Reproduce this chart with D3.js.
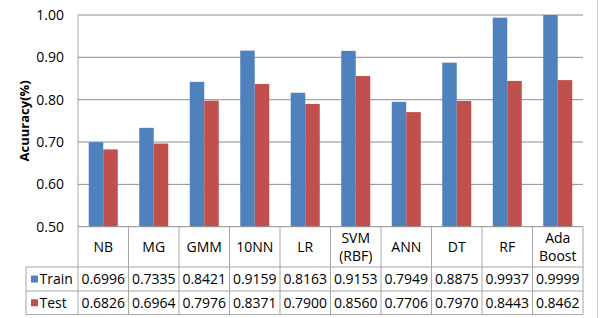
<!DOCTYPE html>
<html>
<head>
<meta charset="utf-8">
<script src="https://cdn.jsdelivr.net/npm/d3@7"></script>
<style>
body{margin:0;background:#fff;}
text{font-family:"Open Sans",sans-serif;fill:#000;}
</style>
</head>
<body>
<script>
// data
var categories = [["NB"],["MG"],["GMM"],["10NN"],["LR"],["SVM","(RBF)"],["ANN"],["DT"],["RF"],["Ada","Boost"]];
var seriesNames = ["Train","Test"];
var trainVals = [0.6996,0.7335,0.8421,0.9159,0.8163,0.9153,0.7949,0.8875,0.9937,0.9999];
var testVals  = [0.6826,0.6964,0.7976,0.8371,0.7900,0.8560,0.7706,0.7970,0.8443,0.8462];
var yTicks = [0.5,0.6,0.7,0.8,0.9,1.0];
var colors = ["#4F81BD","#C0504D"];

var W=602,H=318;
var plotL=78,plotR=583,plotT=15,plotB=226.7;
var rowH=[226.7,267,291,314.5];
var tableLeft=26;
var gridCol="#8e8e8e", lineCol="#a6a6a6";
var fs="14px";

var svg=d3.select("body").append("svg").attr("width",W).attr("height",H);

var keys=categories.map(function(c){return c.join(" ");});
var x0=d3.scaleBand().domain(keys).range([plotL,plotR]);
var x1=d3.scaleBand().domain(seriesNames).range([0,x0.bandwidth()]).paddingOuter(0.74);
var y=d3.scaleLinear().domain([0.5,1]).range([plotB,plotT]);

// gridlines
svg.append("g").selectAll("line").data(yTicks.slice(1)).enter().append("line")
	.attr("x1",plotL).attr("x2",plotR)
	.attr("y1",function(d){return y(d);}).attr("y2",function(d){return y(d);})
	.attr("stroke",gridCol).attr("stroke-width",1);

// tick labels
svg.append("g").selectAll("text").data(yTicks).enter().append("text")
	.attr("x",64).attr("y",function(d){return y(d);}).attr("dy","0.35em")
	.attr("text-anchor","end").style("font-size",fs)
	.text(d3.format(".2f"));

// y label
svg.append("text")
	.attr("transform","translate(29,"+((plotT+plotB)/2)+") rotate(-90)")
	.attr("text-anchor","middle").style("font-size","13px").style("font-weight","bold")
	.text("Acuuracy(%)");

// bars
var series=[trainVals,testVals];
series.forEach(function(vals,si){
	svg.append("g").selectAll("rect").data(vals).enter().append("rect")
		.attr("x",function(d,i){return x0(keys[i])+x1(seriesNames[si]);})
		.attr("width",x1.bandwidth())
		.attr("y",function(d){return y(d);})
		.attr("height",function(d){return plotB-y(d);})
		.attr("fill",colors[si]);
});

// table lines
var g=svg.append("g").attr("stroke",lineCol).attr("stroke-width",1);
g.append("line").attr("x1",plotL).attr("x2",plotL).attr("y1",plotT).attr("y2",rowH[3]);
g.append("line").attr("x1",plotL).attr("x2",plotR).attr("y1",plotB).attr("y2",plotB).attr("stroke",gridCol);
keys.forEach(function(k,i){
	var xr=x0(k)+x0.bandwidth();
	g.append("line").attr("x1",xr).attr("x2",xr).attr("y1",plotB).attr("y2",rowH[3]);
});
[1,2,3].forEach(function(r){
	g.append("line").attr("x1",tableLeft).attr("x2",plotR).attr("y1",rowH[r]).attr("y2",rowH[r]);
});
g.append("line").attr("x1",tableLeft).attr("x2",tableLeft).attr("y1",rowH[1]).attr("y2",rowH[3]);

// outer right border
svg.append("line").attr("x1",597.5).attr("x2",597.5).attr("y1",0).attr("y2",H)
	.attr("stroke","#d0d0d0");

// header labels
categories.forEach(function(c,i){
	var cx=x0(keys[i])+x0.bandwidth()/2;
	var cy=(rowH[0]+rowH[1])/2;
	var t=svg.append("text").attr("text-anchor","middle").style("font-size",fs);
	c.forEach(function(line,j){
		t.append("tspan").attr("x",cx)
			.attr("y",cy+(j-(c.length-1)/2)*18.5).attr("dy","0.35em").text(line);
	});
});

// value rows
series.forEach(function(vals,si){
	var cy=(rowH[si+1]+rowH[si+2])/2;
	svg.append("g").selectAll("text").data(vals).enter().append("text")
		.attr("x",function(d,i){return x0(keys[i])+x0.bandwidth()/2;})
		.attr("y",cy).attr("dy","0.35em").attr("text-anchor","middle")
		.style("font-size",fs)
		.text(d3.format(".4f"));
	svg.append("rect").attr("x",31).attr("y",cy-3.5).attr("width",7).attr("height",7)
		.attr("fill",colors[si]);
	svg.append("text").attr("x",39.5).attr("y",cy).attr("dy","0.35em")
		.style("font-size",fs).text(seriesNames[si]);
});
</script>
</body>
</html>
